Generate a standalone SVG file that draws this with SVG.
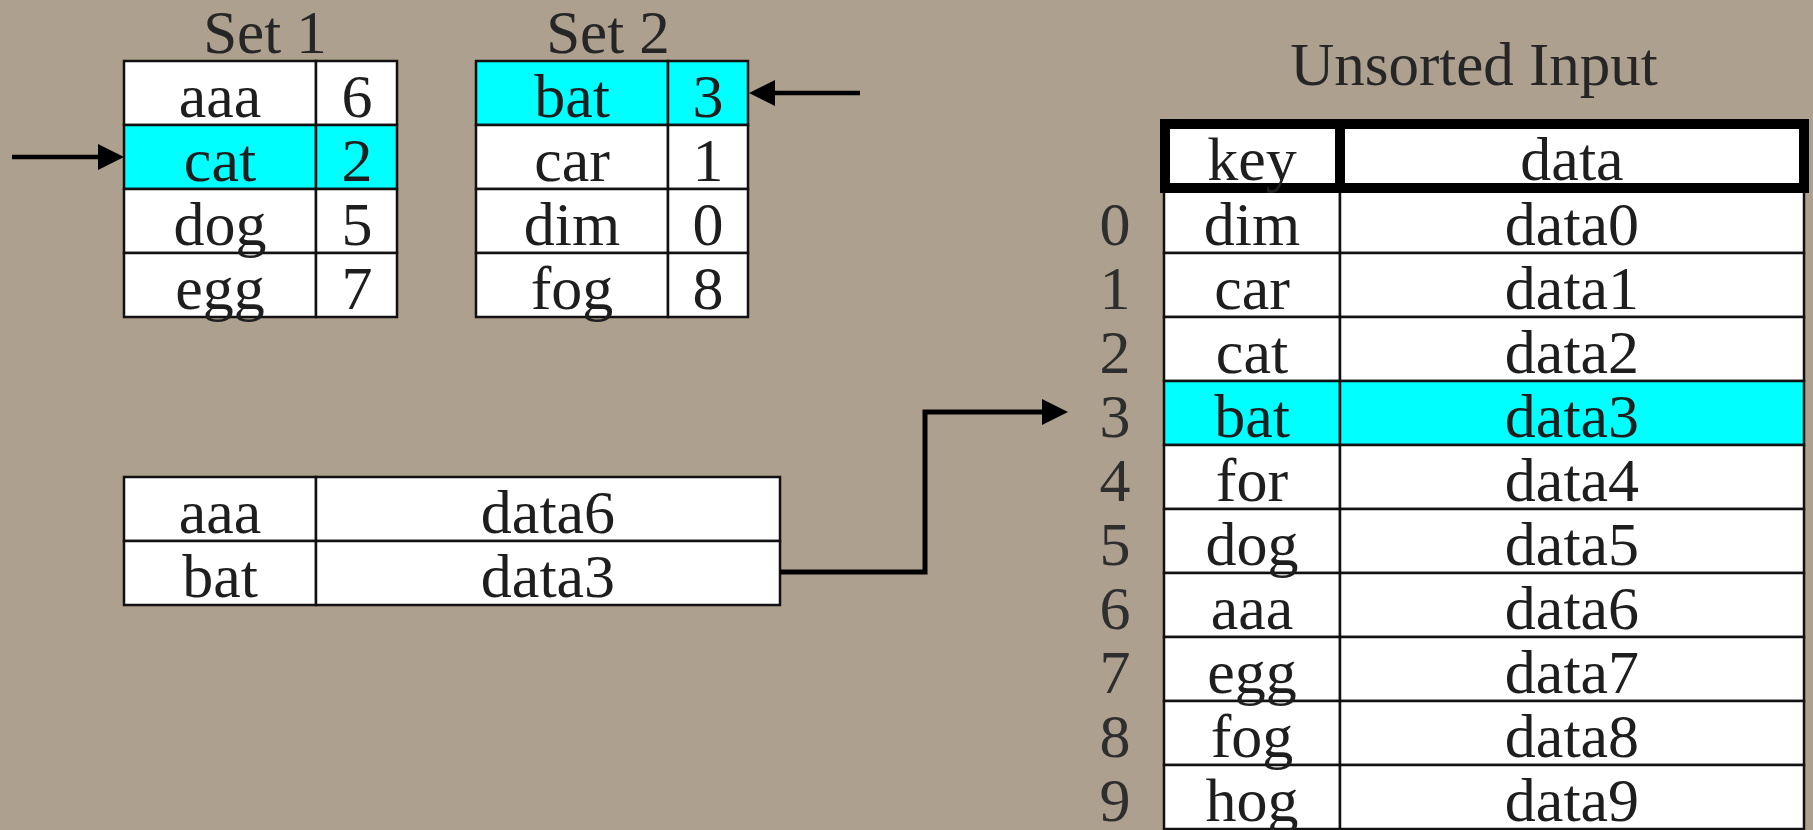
<svg xmlns="http://www.w3.org/2000/svg" width="1813" height="830" viewBox="0 0 1813 830">
  <style>
    .bg { fill: #ADA08E; }
    .cell { fill: #FFFFFF; stroke: #111111; stroke-width: 2.5; }
    .hi { fill: #00FFFF; }
    .head { fill: #FFFFFF; stroke: #000000; stroke-width: 10; }
    text { font-family: "Liberation Serif", "Times New Roman", serif; font-size: 62px; fill: #1E1E1E; text-anchor: middle; }
    .title { font-size: 61px; fill: #262626; }
    .idx { fill: #2E2E2E; }
    .wire { fill: none; stroke: #000000; stroke-width: 4.5; }
    .wire.thick { stroke-width: 5; }
  </style>
  <defs>
    <marker id="arrow" markerUnits="userSpaceOnUse" viewBox="0 0 26 26" markerWidth="26" markerHeight="26" refX="11" refY="13" orient="auto">
      <path d="M0,0 L26,13 L0,26 Z" fill="#000000"/>
    </marker>
  </defs>

  <rect class="bg" x="0" y="0" width="1813" height="830"/>

  <!-- Set 1: key / index pairs -->
  <g id="set1">
    <text class="title" x="265" y="53">Set 1</text>
    <rect class="cell" x="124" y="61" width="192" height="64"/>
    <rect class="cell" x="316" y="61" width="81" height="64"/>
    <rect class="cell hi" x="124" y="125" width="192" height="64"/>
    <rect class="cell hi" x="316" y="125" width="81" height="64"/>
    <rect class="cell" x="124" y="189" width="192" height="64"/>
    <rect class="cell" x="316" y="189" width="81" height="64"/>
    <rect class="cell" x="124" y="253" width="192" height="64"/>
    <rect class="cell" x="316" y="253" width="81" height="64"/>
    <text x="220" y="117">aaa</text><text x="357" y="117">6</text>
    <text x="220" y="181">cat</text><text x="357" y="181">2</text>
    <text x="220" y="245">dog</text><text x="357" y="245">5</text>
    <text x="220" y="309">egg</text><text x="357" y="309">7</text>
  </g>

  <!-- Set 2: key / index pairs -->
  <g id="set2">
    <text class="title" x="608" y="53">Set 2</text>
    <rect class="cell hi" x="476" y="61" width="192" height="64"/>
    <rect class="cell hi" x="668" y="61" width="80" height="64"/>
    <rect class="cell" x="476" y="125" width="192" height="64"/>
    <rect class="cell" x="668" y="125" width="80" height="64"/>
    <rect class="cell" x="476" y="189" width="192" height="64"/>
    <rect class="cell" x="668" y="189" width="80" height="64"/>
    <rect class="cell" x="476" y="253" width="192" height="64"/>
    <rect class="cell" x="668" y="253" width="80" height="64"/>
    <text x="572" y="117">bat</text><text x="708" y="117">3</text>
    <text x="572" y="181">car</text><text x="708" y="181">1</text>
    <text x="572" y="245">dim</text><text x="708" y="245">0</text>
    <text x="572" y="309">fog</text><text x="708" y="309">8</text>
  </g>

  <!-- Output: merged records -->
  <g id="output">
    <rect class="cell" x="124" y="477" width="192" height="64"/>
    <rect class="cell" x="316" y="477" width="464" height="64"/>
    <rect class="cell" x="124" y="541" width="192" height="64"/>
    <rect class="cell" x="316" y="541" width="464" height="64"/>
    <text x="220" y="533">aaa</text><text x="548" y="533">data6</text>
    <text x="220" y="597">bat</text><text x="548" y="597">data3</text>
  </g>

  <!-- Unsorted input records with row indices -->
  <g id="unsorted">
    <text class="title" x="1474" y="85">Unsorted Input</text>
    <rect class="cell" x="1164" y="189" width="176" height="64"/>
    <rect class="cell" x="1340" y="189" width="464" height="64"/>
    <rect class="cell" x="1164" y="253" width="176" height="64"/>
    <rect class="cell" x="1340" y="253" width="464" height="64"/>
    <rect class="cell" x="1164" y="317" width="176" height="64"/>
    <rect class="cell" x="1340" y="317" width="464" height="64"/>
    <rect class="cell hi" x="1164" y="381" width="176" height="64"/>
    <rect class="cell hi" x="1340" y="381" width="464" height="64"/>
    <rect class="cell" x="1164" y="445" width="176" height="64"/>
    <rect class="cell" x="1340" y="445" width="464" height="64"/>
    <rect class="cell" x="1164" y="509" width="176" height="64"/>
    <rect class="cell" x="1340" y="509" width="464" height="64"/>
    <rect class="cell" x="1164" y="573" width="176" height="64"/>
    <rect class="cell" x="1340" y="573" width="464" height="64"/>
    <rect class="cell" x="1164" y="637" width="176" height="64"/>
    <rect class="cell" x="1340" y="637" width="464" height="64"/>
    <rect class="cell" x="1164" y="701" width="176" height="64"/>
    <rect class="cell" x="1340" y="701" width="464" height="64"/>
    <rect class="cell" x="1164" y="765" width="176" height="64"/>
    <rect class="cell" x="1340" y="765" width="464" height="64"/>

    <!-- header row with heavy border -->
    <rect class="head" x="1165" y="124" width="175" height="64"/>
    <rect class="head" x="1340" y="124" width="464" height="64"/>
    <text x="1252" y="180">key</text>
    <text x="1572" y="180">data</text>

    <text class="idx" x="1115" y="245">0</text>
    <text class="idx" x="1115" y="309">1</text>
    <text class="idx" x="1115" y="373">2</text>
    <text class="idx" x="1115" y="437">3</text>
    <text class="idx" x="1115" y="501">4</text>
    <text class="idx" x="1115" y="565">5</text>
    <text class="idx" x="1115" y="629">6</text>
    <text class="idx" x="1115" y="693">7</text>
    <text class="idx" x="1115" y="757">8</text>
    <text class="idx" x="1115" y="821">9</text>

    <text x="1252" y="245">dim</text><text x="1572" y="245">data0</text>
    <text x="1252" y="309">car</text><text x="1572" y="309">data1</text>
    <text x="1252" y="373">cat</text><text x="1572" y="373">data2</text>
    <text x="1252" y="437">bat</text><text x="1572" y="437">data3</text>
    <text x="1252" y="501">for</text><text x="1572" y="501">data4</text>
    <text x="1252" y="565">dog</text><text x="1572" y="565">data5</text>
    <text x="1252" y="629">aaa</text><text x="1572" y="629">data6</text>
    <text x="1252" y="693">egg</text><text x="1572" y="693">data7</text>
    <text x="1252" y="757">fog</text><text x="1572" y="757">data8</text>
    <text x="1252" y="821">hog</text><text x="1572" y="821">data9</text>
  </g>

  <!-- pointers -->
  <g id="connectors">
    <path class="wire" d="M12,157 H109" marker-end="url(#arrow)"/>
    <path class="wire" d="M860,93 H764" marker-end="url(#arrow)"/>
    <path class="wire thick" d="M780,572 H925 V412 H1053" marker-end="url(#arrow)"/>
  </g>
</svg>
